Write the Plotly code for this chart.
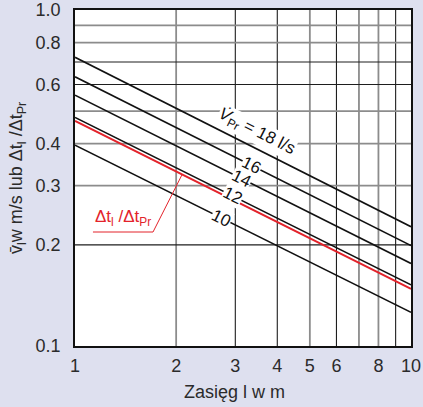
import math
import plotly.graph_objects as go

# Range (throw) in metres at the two ends of each characteristic
range_m = [1, 10]

# Air flow per outlet (l/s) and the mean velocity read at 1 m and 10 m
flows = [18, 16, 14, 12, 10]
vel_at_1m = [0.723, 0.633, 0.558, 0.479, 0.396]
vel_at_10m = [0.2265, 0.199, 0.176, 0.152, 0.126]

# Temperature-difference ratio characteristic (red)
ratio_vals = [0.468, 0.148]

# Where along each line its flow label sits (metres)
label_at = [3.46, 3.36, 3.13, 2.94, 2.73]

# Axis ticks
x_ticks = [1, 2, 3, 4, 5, 6, 8, 10]
y_ticks = [0.1, 0.2, 0.3, 0.4, 0.6, 0.8, 1.0]

# Grid lines (dark and light groups)
grid_x_dark = [3, 4, 6, 9]
grid_x_light = [2, 5, 7, 8]
grid_y_dark = [0.2, 0.6, 0.7]
grid_y_light = [0.3, 0.4, 0.5, 0.8, 0.9]

# Callout for the red line: underline and leader (metres, ratio)
callout_x = [1.131, 1.707, 2.08]
callout_y = [0.2184, 0.2184, 0.3228]

FONT = "Liberation Sans, Arial, sans-serif"
TXT = "#2b2b2b"
RED = "#e3232b"
BG = "#dee0ef"


def on_line(x, pts_x, pts_y):
    """Value of a straight log-log line at x."""
    lx0, lx1 = math.log10(pts_x[0]), math.log10(pts_x[1])
    ly0, ly1 = math.log10(pts_y[0]), math.log10(pts_y[1])
    t = (math.log10(x) - lx0) / (lx1 - lx0)
    return 10 ** (ly0 + t * (ly1 - ly0))


fig = go.Figure()

# grid
for xs, col, w in [(grid_x_dark, "#1e1e1e", 1.1), (grid_x_light, "#8c8c8c", 1.8)]:
    for xv in xs:
        fig.add_trace(go.Scatter(x=[xv, xv], y=[0.1, 1.0], mode="lines",
                                 line=dict(color=col, width=w),
                                 hoverinfo="skip", showlegend=False))
for ys, col, w in [(grid_y_dark, "#1e1e1e", 1.1), (grid_y_light, "#8c8c8c", 1.8)]:
    for yv in ys:
        fig.add_trace(go.Scatter(x=[1, 10], y=[yv, yv], mode="lines",
                                 line=dict(color=col, width=w),
                                 hoverinfo="skip", showlegend=False))

# velocity characteristics
for q, a, b in zip(flows, vel_at_1m, vel_at_10m):
    fig.add_trace(go.Scatter(x=range_m, y=[a, b], mode="lines",
                             line=dict(color="#111111", width=1.6),
                             name=f"{q} l/s", showlegend=False))

# temperature ratio
fig.add_trace(go.Scatter(x=range_m, y=ratio_vals, mode="lines",
                         line=dict(color=RED, width=2),
                         name="Δt_l/Δt_Pr", showlegend=False))

# callout underline + leader
fig.add_trace(go.Scatter(x=callout_x, y=callout_y, mode="lines",
                         line=dict(color=RED, width=1),
                         hoverinfo="skip", showlegend=False))

angle = 26.7
annotations = []
for i, (q, a, b, xl) in enumerate(zip(flows, vel_at_1m, vel_at_10m, label_at)):
    yl = on_line(xl, range_m, [a, b])
    if i == 0:
        text = "<i>V̇</i><sub>Pr</sub> = 18 l/s"
        yshift = 17
    else:
        text = str(q)
        yshift = 0
    annotations.append(dict(
        x=math.log10(xl), y=math.log10(yl), xref="x", yref="y",
        text=text, showarrow=False, textangle=angle, yshift=yshift,
        font=dict(family=FONT, size=17, color="#111111"),
        bgcolor="white", borderpad=0,
    ))

annotations.append(dict(
    x=math.log10(1.13), y=math.log10(0.2184), xref="x", yref="y",
    xanchor="left", yanchor="bottom", yshift=1,
    text="Δt<sub>l</sub> /Δt<sub>Pr</sub>", showarrow=False,
    font=dict(family=FONT, size=17, color=RED),
))

annotations.append(dict(
    x=-0.1726, y=0.5, xref="paper", yref="paper", xanchor="center", yanchor="middle",
    text="v̄<sub>l</sub>w m/s lub Δt<sub>l</sub> /Δt<sub>Pr</sub>", textangle=-90,
    showarrow=False, font=dict(family=FONT, size=18, color=TXT),
))
annotations.append(dict(
    x=0.476, y=-0.137, xref="paper", yref="paper", xanchor="center", yanchor="middle",
    text="Zasięg l w m", showarrow=False,
    font=dict(family=FONT, size=18, color=TXT),
))

fig.update_layout(
    width=423, height=407,
    margin=dict(l=75, r=12, t=10, b=61, autoexpand=False),
    paper_bgcolor=BG, plot_bgcolor="white",
    font=dict(family=FONT, size=18, color=TXT),
    annotations=annotations,
    showlegend=False,
)
fig.update_xaxes(type="log", range=[0, 1], tickvals=x_ticks,
                 ticktext=[str(v) for v in x_ticks],
                 showgrid=False, zeroline=False, automargin=False,
                 showline=True, mirror=True, linecolor="#111111", linewidth=1.5,
                 ticks="outside", ticklen=3, tickcolor="rgba(0,0,0,0)",
                 tickfont=dict(family=FONT, size=18, color=TXT))
fig.update_yaxes(type="log", range=[-1, 0], tickvals=y_ticks,
                 ticktext=[f"{v:.1f}" for v in y_ticks],
                 showgrid=False, zeroline=False, automargin=False,
                 showline=True, mirror=True, linecolor="#111111", linewidth=1.5,
                 ticks="outside", ticklen=9, tickcolor="rgba(0,0,0,0)",
                 tickfont=dict(family=FONT, size=18, color=TXT))

fig.write_html("out.html")
